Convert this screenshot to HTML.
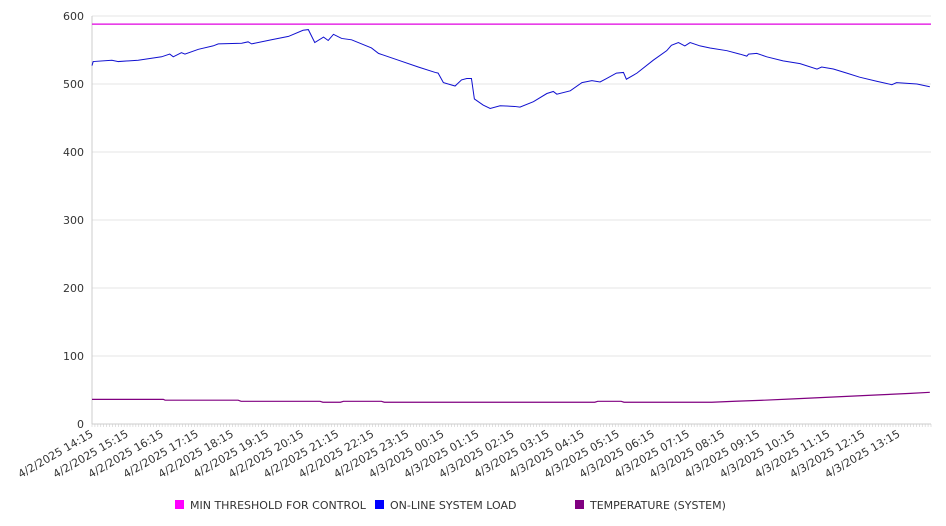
<!DOCTYPE html>
<html><head><meta charset="utf-8"><style>
body{margin:0;background:#fff;}
svg{display:block;font-family:"DejaVu Sans","Liberation Sans",sans-serif;}
</style></head><body>
<svg id="chart" width="946" height="526" viewBox="0 0 946 526"></svg>
<script>
const yTicks=[0,100,200,300,400,500,600];
const xTickLabels=["4/2/2025 14:15","4/2/2025 15:15","4/2/2025 16:15","4/2/2025 17:15","4/2/2025 18:15","4/2/2025 19:15","4/2/2025 20:15","4/2/2025 21:15","4/2/2025 22:15","4/2/2025 23:15","4/3/2025 00:15","4/3/2025 01:15","4/3/2025 02:15","4/3/2025 03:15","4/3/2025 04:15","4/3/2025 05:15","4/3/2025 06:15","4/3/2025 07:15","4/3/2025 08:15","4/3/2025 09:15","4/3/2025 10:15","4/3/2025 11:15","4/3/2025 12:15","4/3/2025 13:15"];
const thresholdValue=588;
const loadMinutes=[0,2,34,45,79,119,133,139,153,159,182,207,216,256,267,273,307,336,361,370,381,396,404,413,427,444,478,490,524,558,587,592,601,621,632,641,649,654,669,681,698,723,732,755,778,789,795,818,838,855,869,880,897,909,914,932,960,983,991,1003,1014,1023,1040,1057,1086,1108,1120,1123,1137,1154,1182,1211,1240,1248,1268,1291,1313,1342,1368,1376,1411,1433];
const loadValues=[527,533,535,533,535,540,544,540,546,544,551,556,559,560,562,559,565,570,579,580,561,569,564,573,567,565,553,545,535,525,517,516,502,497,506,508,508,478,469,464,468,467,466,474,486,489,485,490,502,505,503,508,516,517,507,516,535,549,557,561,556,561,556,553,549,544,541,544,545,540,534,530,522,525,522,516,510,504,499,502,500,496];
const tempMinutes=[0,122,125,250,255,390,395,425,430,495,500,860,865,905,910,1060,1100,1150,1200,1250,1300,1350,1400,1433];
const tempValues=[36.2,36.2,35,35,33.4,33.4,32,32,33.4,33.4,32,32,33.4,33.4,32,32,33.5,35,37,39,41,43,45,46.6];

const NS="http://www.w3.org/2000/svg";
const svg=document.getElementById('chart');
const X0=92,X1=931,Y0=424,Y1=16,TMAX=1435;
const xs=m=>X0+(m/TMAX)*(X1-X0);
const ys=v=>Y0-(v/600)*(Y0-Y1);
function mk(tag,attrs,parent){const e=document.createElementNS(NS,tag);for(const k in attrs)e.setAttribute(k,attrs[k]);(parent||svg).appendChild(e);return e;}

const grid=mk('g',{});


yTicks.forEach(v=>{
  if(v>0){const l=mk('line',{x1:X0,x2:X1,y1:ys(v),y2:ys(v),stroke:'#e6e6e6','stroke-width':1},grid);
  
  }
  const t=mk('text',{x:X0-8,y:ys(v)+4,'text-anchor':'end','font-size':11,fill:'#333'});
  t.textContent=v;
  
  
});
const yAxis=mk('line',{x1:X0,x2:X0,y1:Y1,y2:Y0,stroke:'#ccc'});


const xAxis=mk('line',{x1:X0,x2:X1,y1:Y0,y2:Y0,stroke:'#ccc'});


const ticks=mk('g',{});


for(let m=0;m<=TMAX;m+=5){mk('line',{x1:xs(m),x2:xs(m),y1:Y0,y2:Y0+3,stroke:'#ccc','stroke-width':0.6},ticks);}
xTickLabels.forEach((s,i)=>{
  const x=xs(i*60);
  const t=mk('text',{x:x+2,y:Y0+12,'text-anchor':'end','font-size':11,fill:'#333',transform:`rotate(-30 ${x+2} ${Y0+12})`});
  t.textContent=s;
  
  
});
const th=mk('line',{x1:X0,x2:X1,y1:ys(thresholdValue),y2:ys(thresholdValue),stroke:'#e000e0','stroke-width':1.2});


const lp=mk('polyline',{points:loadMinutes.map((m,i)=>xs(m)+','+ys(loadValues[i])).join(' '),fill:'none',stroke:'#1010d0','stroke-width':1});


const tp=mk('polyline',{points:tempMinutes.map((m,i)=>xs(m)+','+ys(tempValues[i])).join(' '),fill:'none',stroke:'#800080','stroke-width':1.2});



const legend=[["MIN THRESHOLD FOR CONTROL","#ff00ff",175],["ON-LINE SYSTEM LOAD","#0000ff",375],["TEMPERATURE (SYSTEM)","#800080",575]];
legend.forEach(l=>{
  const g=mk('g',{});
  
  
  mk('rect',{x:l[2],y:500,width:9,height:9,fill:l[1]},g);
  const t=mk('text',{x:l[2]+15,y:509,'font-size':11,fill:'#333'},g);
  t.textContent=l[0];
});
</script>
</body></html>
